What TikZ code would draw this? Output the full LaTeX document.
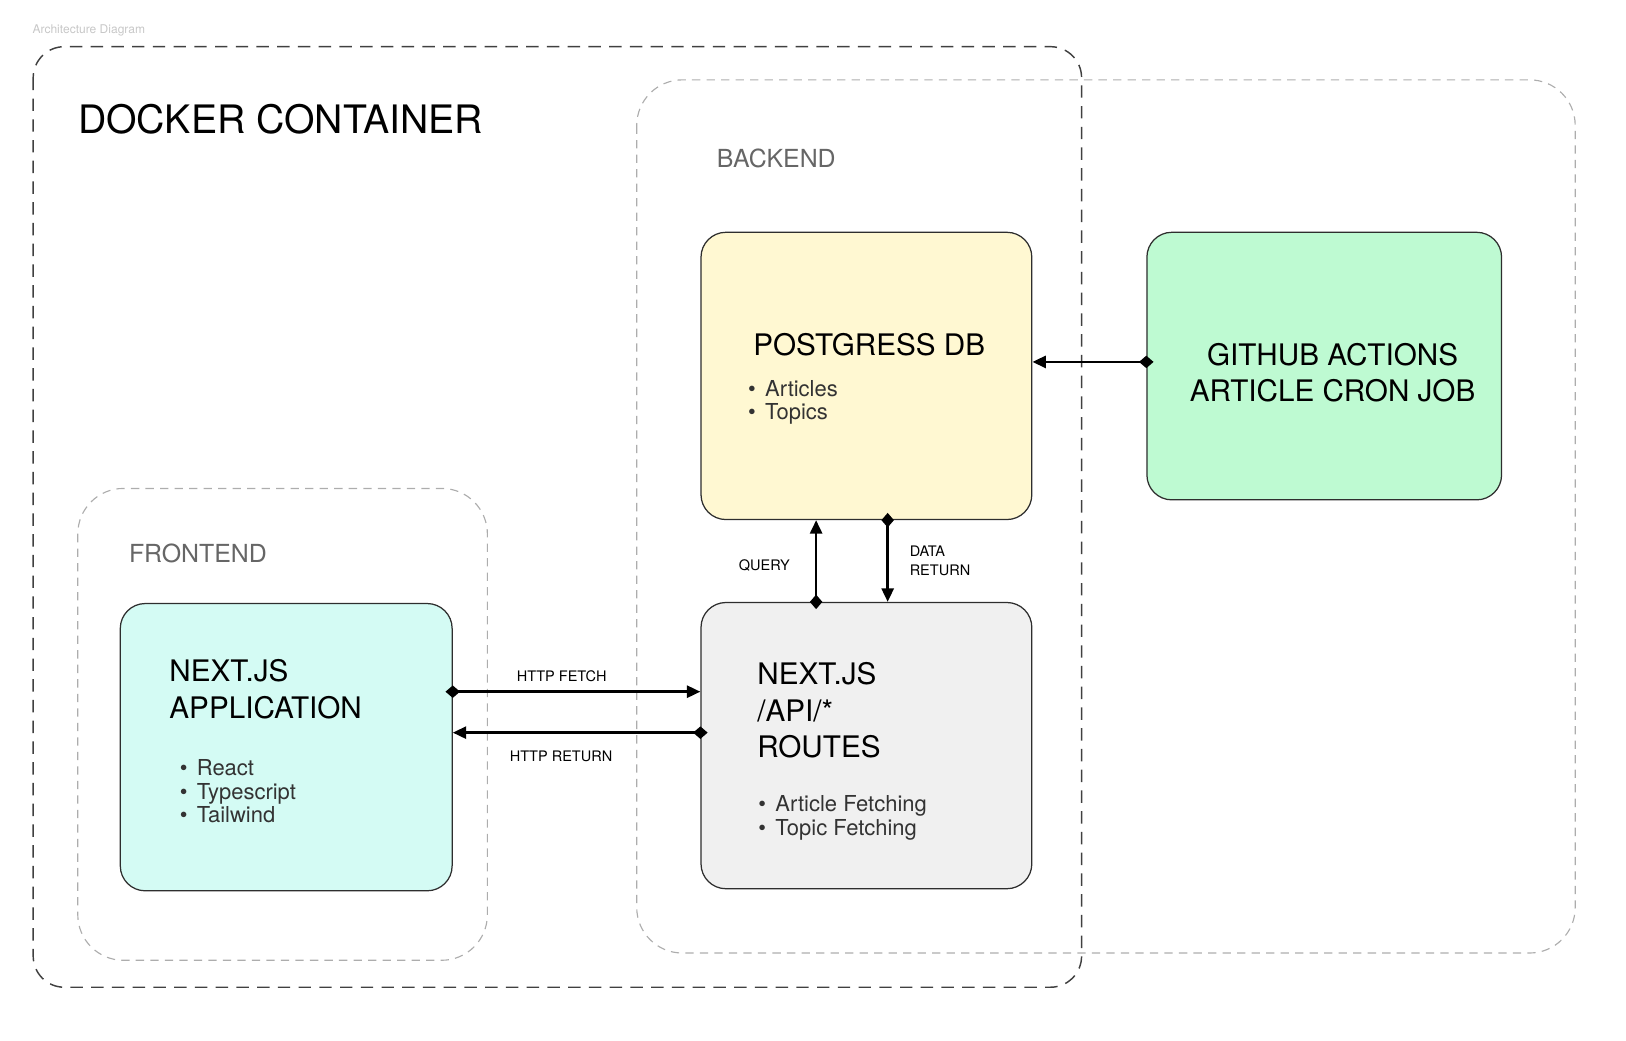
\documentclass[tikz,border=0pt]{standalone}
\usepackage{fontspec}
\setmainfont{TeX Gyre Heros}
\usetikzlibrary{arrows.meta,positioning}
\definecolor{dbyellow}{HTML}{FFF8D2}
\definecolor{cronmint}{HTML}{BEFAD2}
\definecolor{appcyan}{HTML}{D4FBF4}
\definecolor{apigray}{HTML}{F0F0F0}
\definecolor{boxline}{HTML}{2E2E2E}
\definecolor{groupgray}{HTML}{ADADAD}
\definecolor{labelgray}{HTML}{666666}
\newcommand{\fs}[2]{\fontsize{#1}{#2}\selectfont}
\newcommand{\bul}[1]{\textbullet\hspace{4.5pt}#1}

\begin{document}
\begin{tikzpicture}[x=0.5pt,y=-0.5pt,
  box/.style={draw=boxline, line width=0.6pt, rounded corners=12pt,
    minimum width=159.5pt, minimum height=138.5pt},
  group/.style={draw=groupgray, line width=0.55pt,
    dash pattern=on 4pt off 3pt, rounded corners=22pt},
  docker/.style={draw=black!75, line width=0.7pt,
    dash pattern=on 6pt off 4pt, rounded corners=15pt},
  heading/.style={inner sep=0pt, anchor=west},
  title/.style={inner sep=0pt, align=left, font=\fs{14.3}{17.5}},
  items/.style={inner sep=0pt, align=left, font=\fs{10.6}{11.5}, text=black!80},
  tag/.style={inner sep=0pt, align=left, font=\fs{7}{9}},
  link/.style={line width=1.3pt, shorten <=-3.5pt,
    {Diamond[length=7pt,width=6pt]}-{Triangle[length=6.5pt,width=5.8pt]}},
]
\useasboundingbox (0,0) rectangle (1568,1003);

% groups
\draw[group] (614,77) rectangle (1519,919);
\draw[group] (75,471) rectangle (470,926);
\draw[docker] (32,45) rectangle (1043,952);

\node[heading, font=\fs{5.8}{7}, text=black!22] (caption) at (31,29) {Architecture Diagram};
\node[heading, font=\fs{18.9}{22}] (dockerlbl) at (75,115) {DOCKER CONTAINER};
\node[heading, font=\fs{12}{14}, text=labelgray] (backendlbl) at (691,153) {BACKEND};
\node[heading, font=\fs{12}{14}, text=labelgray] (frontendlbl) at (124,534) {FRONTEND};

% boxes
\node[box, fill=dbyellow] (pg) at (835.5,362.5) {};
\node[box, fill=cronmint, minimum width=171pt, minimum height=129pt] (gh) at (1277,353) {};
\node[box, fill=appcyan, minimum width=160pt] (app) at (276,720.5) {};
\node[box, fill=apigray, minimum height=138pt] (api) at (835.5,719) {};

\node[title, anchor=west] (pgtitle) at (726,332) {POSTGRESS DB};
\node[items, anchor=west] (pgitems) at (721,388) {\bul{Articles}\\\bul{Topics}};
\node[title, align=center] (ghtitle) at (1285,359.5) {GITHUB ACTIONS\\ARTICLE CRON JOB};
\node[title, anchor=west] (apptitle) at (163,664.5) {NEXT.JS\\APPLICATION};
\node[items, anchor=west] (appitems) at (173,763) {\bul{React}\\\bul{Typescript}\\\bul{Tailwind}};
\node[title, anchor=west] (apititle) at (730,685) {NEXT.JS\\/API/*\\ROUTES};
\node[items, anchor=west] (apiitems) at (731,788.5) {\bul{Article Fetching}\\\bul{Topic Fetching}};

% connectors
\draw[link] ([yshift=26.75pt]app.east) -- ([yshift=26.75pt]app.east -| api.west)
  node[tag, pos=0.44, above=4pt] (fetchlbl) {HTTP FETCH};
\draw[link] ([yshift=6.25pt]api.west) -- ([yshift=6.25pt]api.west -| app.east)
  node[tag, pos=0.5625, below=8pt] (returnlbl) {HTTP RETURN};
\draw[link] ([xshift=-24.25pt]api.north) -- ([xshift=-24.25pt]api.north |- pg.south)
  node[tag, midway, left=12pt, yshift=-2pt] (querylbl) {QUERY};
\draw[link] ([xshift=10.25pt]pg.south) -- ([xshift=10.25pt]pg.south |- api.north)
  node[tag, midway, right=10pt] (datalbl) {DATA\\RETURN};
\draw[link] ([yshift=2pt]gh.west) -- ([yshift=2pt]gh.west -| pg.east);
\end{tikzpicture}
\end{document}
